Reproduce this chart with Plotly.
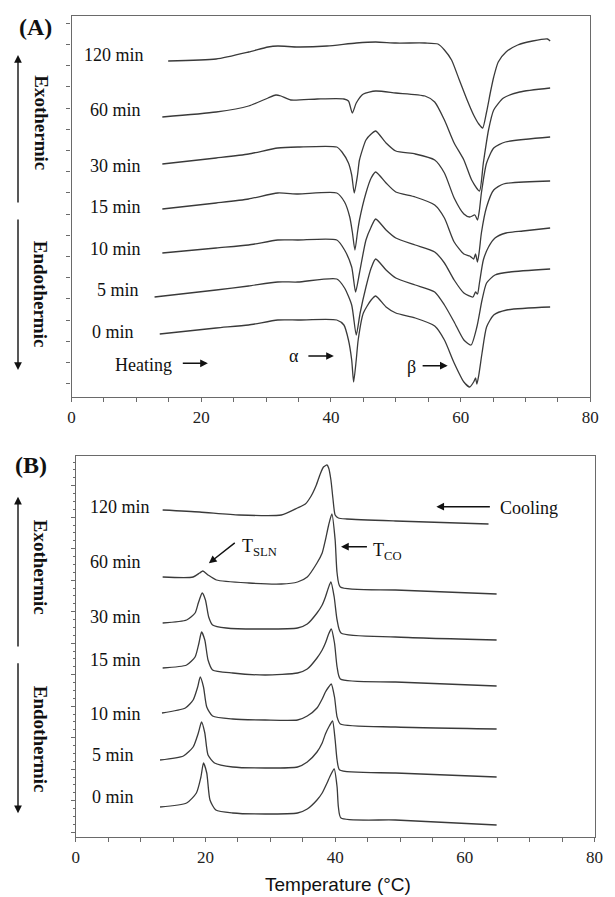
import plotly.graph_objects as go

W, H = 615, 897

# ---------------- Panel A (heating) : temperature (°C) / heat flow (a.u.) ----------------
labels_A = ["120 min", "60 min", "30 min", "15 min", "10 min", "5 min", "0 min"]

T_A_120 = [14.9, 22.3, 27.3, 30.3, 31.8, 34.9, 39.4, 43.9, 46.9, 50.0, 54.5, 56.5, 57.5, 58.6, 59.8, 61.0, 62.0, 62.8, 63.4, 64.0, 64.6, 65.1, 65.8, 67.0, 68.8, 71.1, 73.4, 73.8]
H_A_120 = [33.6, 33.8, 34.5, 35.0, 35.1, 35.0, 35.1, 35.4, 35.5, 35.4, 35.4, 35.3, 34.7, 33.7, 31.7, 29.7, 28.2, 27.3, 26.9, 28.5, 30.5, 32.0, 33.5, 34.5, 35.2, 35.6, 35.8, 35.6]

T_A_60 = [14.0, 22.3, 27.3, 30.3, 31.5, 32.3, 33.8, 37.9, 42.0, 42.7, 43.3, 43.9, 45.0, 46.9, 50.0, 54.5, 56.0, 57.5, 59.0, 60.5, 61.7, 62.9, 63.5, 64.3, 65.1, 66.6, 69.1, 73.8]
H_A_60 = [28.0, 28.5, 29.1, 29.9, 30.2, 30.1, 29.7, 29.8, 29.8, 29.6, 28.4, 29.4, 30.3, 30.6, 30.4, 30.1, 29.5, 27.7, 25.4, 23.7, 21.7, 20.6, 23.4, 26.7, 28.7, 29.9, 30.5, 30.9]

T_A_30 = [14.0, 22.3, 27.3, 31.8, 34.9, 40.9, 41.7, 42.7, 43.2, 43.6, 44.1, 44.4, 45.4, 46.2, 46.9, 48.5, 50.0, 53.0, 56.0, 57.5, 59.0, 60.5, 61.4, 62.2, 62.6, 62.9, 63.2, 64.0, 65.1, 66.9, 73.8]
H_A_30 = [23.3, 23.9, 24.3, 24.9, 25.0, 25.0, 24.5, 23.4, 22.2, 20.4, 22.2, 23.7, 25.7, 26.3, 26.6, 25.4, 24.6, 24.3, 23.7, 22.4, 19.9, 18.3, 18.0, 18.2, 17.7, 18.7, 20.4, 23.4, 24.9, 25.5, 26.0]

T_A_15 = [14.0, 22.3, 27.3, 31.8, 34.9, 40.9, 42.1, 42.9, 43.3, 43.7, 44.1, 44.4, 45.4, 46.2, 46.9, 48.5, 50.0, 53.0, 56.0, 57.5, 59.0, 60.5, 61.4, 62.0, 62.3, 62.6, 62.9, 63.2, 64.0, 65.1, 66.6, 73.8]
H_A_15 = [18.8, 19.4, 19.8, 20.4, 20.3, 20.4, 19.5, 18.0, 16.5, 14.7, 16.5, 17.7, 20.4, 21.9, 22.5, 21.4, 20.5, 20.0, 19.2, 17.9, 15.5, 14.3, 14.1, 13.8, 14.3, 13.5, 14.7, 16.4, 19.0, 20.7, 21.3, 21.6]

T_A_10 = [14.0, 22.3, 27.3, 31.8, 34.9, 40.9, 42.1, 43.2, 43.8, 44.4, 45.4, 46.2, 46.9, 48.5, 50.0, 53.0, 56.0, 57.5, 59.0, 60.5, 61.9, 62.3, 62.6, 62.9, 63.5, 64.3, 65.3, 67.0, 69.6, 73.8]
H_A_10 = [14.4, 14.9, 15.2, 15.7, 15.7, 15.7, 14.7, 13.0, 10.5, 12.4, 15.7, 17.0, 17.8, 16.7, 15.9, 15.2, 14.5, 13.4, 11.7, 10.4, 10.0, 10.5, 10.3, 11.4, 13.7, 15.0, 15.9, 16.4, 16.6, 16.9]

T_A_5 = [12.8, 22.3, 27.3, 31.8, 34.9, 40.9, 42.1, 43.2, 43.9, 44.5, 45.4, 46.2, 46.9, 48.5, 50.0, 53.0, 56.0, 57.5, 59.0, 60.5, 61.6, 62.5, 63.3, 64.0, 65.3, 67.6, 73.8]
H_A_5 = [10.0, 10.7, 11.1, 11.5, 11.5, 11.8, 10.9, 9.2, 6.2, 8.4, 11.0, 12.9, 13.8, 12.7, 11.9, 11.2, 10.5, 9.2, 7.5, 5.7, 5.2, 7.0, 9.7, 11.4, 12.2, 12.5, 12.8]

T_A_0 = [13.6, 22.3, 27.3, 31.8, 34.9, 40.9, 42.0, 42.7, 43.2, 43.5, 43.9, 44.2, 45.0, 46.2, 46.9, 48.5, 50.0, 53.0, 56.0, 57.5, 59.0, 60.5, 61.4, 62.0, 62.3, 62.5, 62.8, 63.3, 64.0, 65.1, 67.1, 73.8]
H_A_0 = [6.3, 6.9, 7.2, 7.7, 7.7, 7.7, 7.2, 5.7, 3.7, 1.5, 3.7, 5.7, 8.4, 9.7, 10.1, 9.0, 8.4, 7.9, 7.1, 5.7, 3.4, 1.5, 1.0, 1.5, 1.9, 1.3, 2.2, 4.4, 7.0, 8.2, 8.7, 9.0]

# ---------------- Panel B (cooling) ----------------
labels_B = ["120 min", "60 min", "30 min", "15 min", "10 min", "5 min", "0 min"]

T_B_120 = [13.4, 19.1, 25.2, 31.7, 34.2, 35.4, 36.3, 37.1, 37.7, 38.2, 38.75, 39.0, 39.35, 39.65, 40.0, 40.5, 41.8, 49.3, 63.65]
H_B_120 = [32.7, 32.5, 32.2, 32.2, 32.9, 33.3, 34.1, 35.2, 36.3, 37.0, 37.2, 36.9, 35.7, 33.9, 32.2, 31.9, 31.8, 31.6, 31.3]

T_B_60 = [13.4, 18.1, 19.1, 19.6, 20.4, 21.7, 26.7, 31.7, 34.2, 35.7, 37.2, 38.0, 38.5, 39.0, 39.5, 40.0, 40.3, 40.8, 49.3, 64.9]
H_B_60 = [26.0, 26.0, 26.4, 26.6, 26.2, 25.7, 25.4, 25.3, 25.5, 26.0, 27.4, 28.4, 29.7, 31.2, 32.3, 29.7, 26.4, 25.0, 24.7, 24.3]

T_B_30 = [13.4, 17.1, 18.4, 18.9, 19.5, 20.0, 20.5, 21.1, 23.2, 29.2, 34.2, 35.7, 37.2, 38.0, 38.5, 38.95, 39.35, 39.85, 40.3, 40.9, 49.3, 64.9]
H_B_30 = [21.4, 21.7, 22.4, 23.4, 24.4, 23.7, 22.0, 21.2, 20.9, 20.8, 20.9, 21.3, 22.4, 23.2, 24.0, 24.9, 25.5, 24.0, 21.7, 20.4, 20.0, 19.7]

T_B_15 = [13.4, 17.1, 18.4, 19.0, 19.4, 19.9, 20.4, 21.1, 24.2, 29.2, 34.2, 35.7, 37.2, 38.0, 38.5, 39.0, 39.4, 39.9, 40.3, 40.8, 49.3, 64.9]
H_B_15 = [16.9, 17.2, 18.0, 19.4, 20.5, 19.7, 17.7, 16.7, 16.4, 16.2, 16.4, 16.8, 17.9, 18.7, 19.4, 20.3, 20.8, 19.4, 17.0, 15.8, 15.5, 15.1]

T_B_10 = [13.3, 16.9, 18.1, 18.8, 19.2, 19.7, 20.2, 21.1, 24.2, 29.2, 34.2, 35.7, 37.2, 38.0, 38.5, 39.0, 39.4, 39.9, 40.3, 40.8, 49.3, 64.9]
H_B_10 = [12.4, 12.9, 13.7, 15.0, 16.0, 15.0, 13.0, 12.1, 11.8, 11.7, 11.7, 12.1, 12.9, 13.8, 14.5, 15.0, 15.3, 14.0, 12.0, 11.3, 11.0, 10.8]

T_B_5 = [13.0, 16.6, 18.1, 18.9, 19.4, 19.9, 20.4, 21.4, 24.2, 29.2, 34.2, 35.7, 37.2, 38.0, 38.5, 39.1, 39.6, 40.0, 40.3, 40.7, 49.3, 64.9]
H_B_5 = [7.7, 8.1, 9.0, 10.4, 11.5, 10.4, 8.2, 7.4, 7.0, 6.9, 7.0, 7.5, 8.5, 9.4, 10.3, 11.1, 11.6, 9.7, 7.7, 6.7, 6.4, 6.0]

T_B_0 = [13.0, 17.1, 18.6, 19.3, 19.7, 20.2, 20.7, 21.6, 24.2, 29.2, 34.2, 35.7, 37.2, 38.0, 38.75, 39.3, 39.85, 40.3, 40.5, 40.9, 49.3, 64.9]
H_B_0 = [3.0, 3.4, 4.4, 6.0, 7.4, 6.4, 3.7, 2.7, 2.4, 2.3, 2.4, 2.8, 3.7, 4.4, 5.4, 6.2, 6.8, 5.0, 3.0, 1.9, 1.7, 1.2]

x_tick_vals = [0, 20, 40, 60, 80]
x_tick_text = ["0", "20", "40", "60", "80"]

curves_A = [(T_A_120, H_A_120), (T_A_60, H_A_60), (T_A_30, H_A_30), (T_A_15, H_A_15),
            (T_A_10, H_A_10), (T_A_5, H_A_5), (T_A_0, H_A_0)]
curves_B = [(T_B_120, H_B_120), (T_B_60, H_B_60), (T_B_30, H_B_30), (T_B_15, H_B_15),
            (T_B_10, H_B_10), (T_B_5, H_B_5), (T_B_0, H_B_0)]

LINE = "#3a3a3a"
AX = "#6a6a6a"
SERIF = "Liberation Serif, Times New Roman, serif"

fig = go.Figure()
for (t, h), name in zip(curves_A, labels_A):
    fig.add_trace(go.Scatter(x=t, y=h, mode="lines", name="A " + name, xaxis="x", yaxis="y",
                             line=dict(color=LINE, width=1.3, shape="spline", smoothing=0.6)))
for (t, h), name in zip(curves_B, labels_B):
    fig.add_trace(go.Scatter(x=t, y=h, mode="lines", name="B " + name, xaxis="x2", yaxis="y2",
                             line=dict(color=LINE, width=1.3, shape="spline", smoothing=0.6)))


def px(x, y):
    return x / W, 1 - y / H


axA_x = (69 / W, 599 / W)
axA_y = (1 - 397 / H, 1 - 16 / H)
axB_x = (73.3 / W, 603.3 / W)
axB_y = (1 - 837 / H, 1 - 456 / H)

xcommon = dict(range=[0, 80], tickvals=x_tick_vals, ticktext=x_tick_text, ticks="outside",
               ticklen=4, tickcolor=AX, tickwidth=1, showline=True, linecolor=AX, linewidth=1.2,
               mirror=True, showgrid=False, zeroline=False,
               tickfont=dict(family=SERIF, size=17, color="#222"),
               minor=dict(dtick=5, tick0=0, ticks="outside", ticklen=4, tickcolor=AX, showgrid=False))
ycommon = dict(range=[0, 38.1], ticks="outside", ticklen=4, tickcolor=AX, tickwidth=1,
               showline=True, linecolor=AX, linewidth=1.2, mirror=True, showgrid=False,
               zeroline=False, showticklabels=False)

fig.update_layout(
    width=W, height=H, margin=dict(l=0, r=0, t=0, b=0),
    paper_bgcolor="white", plot_bgcolor="white", showlegend=False,
    xaxis=dict(domain=list(axA_x), anchor="y", **xcommon),
    yaxis=dict(domain=list(axA_y), anchor="x", tick0=1.33, dtick=2.12, **ycommon),
    xaxis2=dict(domain=list(axB_x), anchor="y2", **xcommon),
    yaxis2=dict(domain=list(axB_y), anchor="x2", tick0=0.48, dtick=3.15,
                minor=dict(dtick=0.7875, tick0=0.48, ticks="outside", ticklen=2, tickcolor=AX, showgrid=False),
                **ycommon),
)

ann = []


def text(s, x, y, size=18, bold=False, family=SERIF, angle=0):
    xx, yy = px(x, y)
    ann.append(dict(text=("<b>%s</b>" % s) if bold else s, x=xx, y=yy, xref="paper", yref="paper",
                    showarrow=False, xanchor="center", yanchor="middle", textangle=angle,
                    font=dict(family=family, size=size, color="#111")))


def arrow(tx, ty, hx, hy):
    xx, yy = px(hx, hy)
    ann.append(dict(text="", x=xx, y=yy, xref="paper", yref="paper", showarrow=True,
                    ax=tx - hx, ay=ty - hy, arrowhead=2, arrowsize=1.1, arrowwidth=1.4,
                    arrowcolor="#111", standoff=0, startstandoff=0))


# Panel A decorations
text("(A)", 32, 27, size=24, bold=True)
label_pos_A = [(112, 55), (114, 110), (114, 166), (114, 207), (114, 249), (116, 290), (111.5, 332)]
for name, (x, y) in zip(labels_A, label_pos_A):
    text(name, x, y)
text("Exothermic", 38, 122.5, size=19, bold=True, angle=90)
text("Endothermic", 38, 294, size=19, bold=True, angle=90)
arrow(14.3, 204, 14.3, 55)
arrow(14.3, 218, 14.3, 370)
text("Heating", 142.5, 365)
arrow(181.7, 363.3, 208.3, 363.3)
text("α", 296, 356)
arrow(310, 356, 337, 356)
text("β", 416, 367)
arrow(426.7, 365.7, 453.3, 365.7)

# Panel B decorations
text("(B)", 27.5, 465, size=24, bold=True)
label_pos_B = [(118, 507), (113.5, 562), (113.5, 617), (113.5, 660), (114, 714), (111.8, 755), (111.8, 797)]
for name, (x, y) in zip(labels_B, label_pos_B):
    text(name, x, y)
text("Exothermic", 38, 567, size=19, bold=True, angle=90)
text("Endothermic", 38, 739, size=19, bold=True, angle=90)
arrow(14.3, 648, 14.3, 496.7)
arrow(14.3, 661.7, 14.3, 813.3)
text("T<sub>SLN</sub>", 261, 547)
arrow(236.7, 541.7, 209.3, 563.3)
text("T<sub>CO</sub>", 392, 551)
arrow(371.7, 546.7, 344.3, 546.7)
text("Cooling", 536.7, 507.5)
arrow(496.7, 506.7, 441.7, 506.7)

text("Temperature (°C)", 340.8, 884, size=19, family="Liberation Sans, Arial, sans-serif")

fig.update_layout(annotations=ann)
fig.write_html("out.html", config={"displayModeBar": False},
               post_script="document.body.style.margin='0px';")
